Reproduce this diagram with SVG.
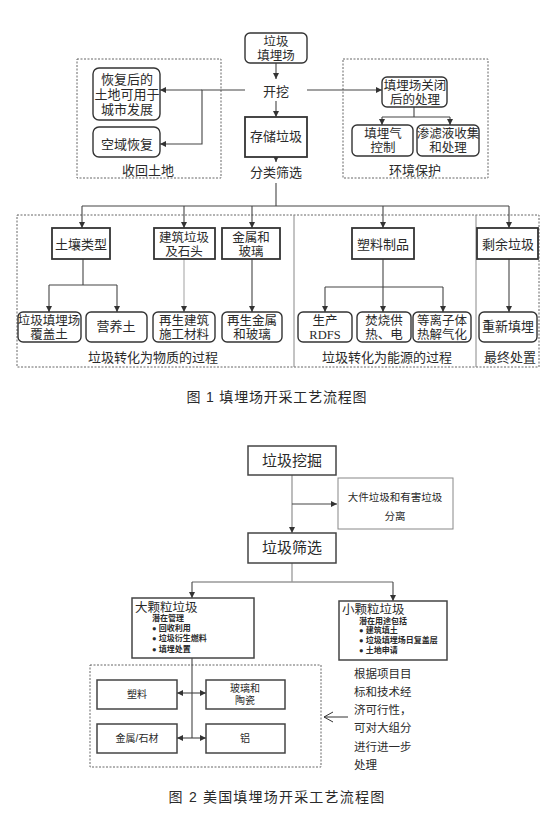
<svg xmlns="http://www.w3.org/2000/svg" width="554" height="818" viewBox="0 0 554 818">
<style>
.bg{fill:#fff}
.s{font-family:"Liberation Serif","Noto Sans CJK SC",serif;fill:#2a2a2a;text-anchor:middle}
.f1{font-size:13px}
.f2{font-size:12.5px}
.h{font-family:"Liberation Sans","Noto Sans CJK SC",sans-serif;fill:#2a2a2a}
.rb{fill:#fff;stroke:#333;stroke-width:1.4}
.sb{fill:#fff;stroke:#333;stroke-width:1.8}
.dash{fill:none;stroke:#666;stroke-width:1;stroke-dasharray:2,1.5}
.ln{fill:none;stroke:#444;stroke-width:1.1}
.lg{fill:none;stroke:#999;stroke-width:1.3}
.b2{fill:#fff;stroke:#444;stroke-width:1.5}
.b3{fill:#fff;stroke:#888;stroke-width:1}
.bl{font-size:8px;font-weight:bold}
.dot{font-size:7.5px}
</style>
<defs>
<marker id="a" markerUnits="userSpaceOnUse" markerWidth="7" markerHeight="6" refX="6" refY="3" orient="auto-start-reverse">
<path d="M0,0 L6,3 L0,6 Z" fill="#333"/>
</marker>
<marker id="o" markerUnits="userSpaceOnUse" markerWidth="10" markerHeight="12" refX="9" refY="6" orient="auto">
<path d="M0,1 L9,6 L0,11" fill="none" stroke="#333" stroke-width="1"/>
</marker>
</defs>
<rect class="bg" width="554" height="818"/>

<!-- Figure 1 containers -->
<g id="group-shouhui">
<rect class="dash" x="77" y="59" width="144" height="119"/>
<text class="s f1" x="148" y="175">收回土地</text>
</g>
<g id="group-huanjing">
<rect class="dash" x="343" y="59" width="145" height="119"/>
<text class="s f1" x="415" y="175">环境保护</text>
</g>
<g id="group-bottom">
<rect class="dash" x="17" y="215" width="522" height="152"/>
<line x1="294" y1="215" x2="294" y2="367" stroke="#888" stroke-width="1"/>
<line x1="476" y1="215" x2="476" y2="367" stroke="#888" stroke-width="1"/>
<text class="s f1" x="153" y="362">垃圾转化为物质的过程</text>
<text class="s f1" x="387" y="362">垃圾转化为能源的过程</text>
<text class="s f1" x="510" y="362">最终处置</text>
</g>

<!-- Figure 1 connectors -->
<g id="connectors-1">
<line class="ln" x1="276" y1="63" x2="276" y2="79" marker-end="url(#a)"/>
<line class="ln" x1="276" y1="101" x2="276" y2="117" marker-end="url(#a)"/>
<line class="ln" x1="276" y1="157" x2="276" y2="162" marker-end="url(#a)"/>
<line class="ln" x1="276" y1="183" x2="276" y2="206"/>
<polyline class="ln" points="245,90 202,90 202,144 160,144" marker-end="url(#a)"/>
<line class="ln" x1="202" y1="90" x2="160" y2="90" marker-end="url(#a)"/>
<line class="ln" x1="307" y1="90" x2="382" y2="90" marker-end="url(#a)"/>
<line class="ln" x1="414" y1="107" x2="414" y2="117"/>
<line class="ln" x1="382" y1="117" x2="450" y2="117"/>
<line class="ln" x1="382" y1="117" x2="382" y2="125" marker-end="url(#a)"/>
<line class="ln" x1="450" y1="117" x2="450" y2="125" marker-end="url(#a)"/>
<line class="ln" x1="82" y1="206" x2="509" y2="206"/>
<line class="ln" x1="82" y1="206" x2="82" y2="228" marker-end="url(#a)"/>
<line class="ln" x1="184" y1="206" x2="184" y2="228" marker-end="url(#a)"/>
<line class="ln" x1="252" y1="206" x2="252" y2="228" marker-end="url(#a)"/>
<line class="ln" x1="383" y1="206" x2="383" y2="228" marker-end="url(#a)"/>
<line class="ln" x1="509" y1="206" x2="509" y2="228" marker-end="url(#a)"/>
<line class="ln" x1="83" y1="259" x2="83" y2="285"/>
<line class="ln" x1="49" y1="285" x2="117" y2="285"/>
<line class="ln" x1="49" y1="285" x2="49" y2="312" marker-end="url(#a)"/>
<line class="ln" x1="117" y1="285" x2="117" y2="312" marker-end="url(#a)"/>
<line x1="184" y1="259" x2="184" y2="312" stroke="#aaa" stroke-width="1.1" marker-end="url(#a)"/>
<line class="ln" x1="252" y1="259" x2="252" y2="312" marker-end="url(#a)"/>
<line class="ln" x1="383" y1="259" x2="383" y2="312" marker-end="url(#a)"/>
<line class="ln" x1="325" y1="287" x2="443" y2="287"/>
<line class="ln" x1="325" y1="287" x2="325" y2="312" marker-end="url(#a)"/>
<line class="ln" x1="443" y1="287" x2="443" y2="312" marker-end="url(#a)"/>
<line class="ln" x1="509" y1="259" x2="509" y2="312" marker-end="url(#a)"/>
</g>

<!-- Figure 1 nodes -->
<g id="n-landfill"><rect class="rb" x="245" y="33" width="62" height="30" rx="5"/>
<text class="s f2" x="276" y="46">垃圾</text><text class="s f2" x="276" y="60">填埋场</text></g>
<g id="n-dig"><text class="s f1" x="276" y="96">开挖</text></g>
<g id="n-urban"><rect class="rb" x="93" y="68" width="67" height="52" rx="6"/>
<text class="s f1" x="127" y="84">恢复后的</text><text class="s f1" x="127" y="99">土地可用于</text><text class="s f1" x="127" y="114">城市发展</text></g>
<g id="n-air"><rect class="rb" x="93" y="127" width="67" height="30" rx="6"/>
<text class="s f1" x="127" y="149">空域恢复</text></g>
<g id="n-store"><rect class="sb" x="245" y="117" width="62" height="40"/>
<text class="s f1" x="276" y="141">存储垃圾</text></g>
<g id="n-sort"><text class="s f1" x="276" y="177">分类筛选</text></g>
<g id="n-close"><rect class="rb" x="382" y="77" width="65" height="30" rx="5"/>
<text class="s f2" x="415" y="90">填埋场关闭</text><text class="s f2" x="415" y="104">后的处理</text></g>
<g id="n-gas"><rect class="rb" x="352" y="125" width="61" height="31" rx="5"/>
<text class="s f2" x="383" y="138">填埋气</text><text class="s f2" x="383" y="152">控制</text></g>
<g id="n-leach"><rect class="rb" x="417" y="125" width="62" height="31" rx="5"/>
<text class="s f2" x="448" y="138">渗滤液收集</text><text class="s f2" x="448" y="152">和处理</text></g>

<g id="n-soil"><rect class="sb" x="52" y="228" width="58" height="31"/>
<text class="s f1" x="81" y="249">土壤类型</text></g>
<g id="n-build"><rect class="sb" x="154" y="228" width="61" height="31"/>
<text class="s f2" x="184" y="242">建筑垃圾</text><text class="s f2" x="184" y="256">及石头</text></g>
<g id="n-metal"><rect class="sb" x="222" y="228" width="58" height="31"/>
<text class="s f2" x="251" y="242">金属和</text><text class="s f2" x="251" y="256">玻璃</text></g>
<g id="n-plastic"><rect class="sb" x="352" y="228" width="62" height="31"/>
<text class="s f1" x="383" y="249">塑料制品</text></g>
<g id="n-rest"><rect class="sb" x="477" y="228" width="61" height="31"/>
<text class="s f1" x="508" y="249">剩余垃圾</text></g>

<g id="n-cover"><rect class="rb" x="18" y="312" width="63" height="30" rx="5"/>
<text class="s f2" x="49" y="325">垃圾填埋场</text><text class="s f2" x="49" y="339">覆盖土</text></g>
<g id="n-nutri"><rect class="rb" x="86" y="312" width="61" height="30" rx="5"/>
<text class="s f1" x="116" y="331">营养土</text></g>
<g id="n-rebuild"><rect class="rb" x="153" y="312" width="62" height="30" rx="5"/>
<text class="s f2" x="184" y="325">再生建筑</text><text class="s f2" x="184" y="339">施工材料</text></g>
<g id="n-remetal"><rect class="rb" x="222" y="312" width="60" height="30" rx="5"/>
<text class="s f2" x="252" y="325">再生金属</text><text class="s f2" x="252" y="339">和玻璃</text></g>
<g id="n-rdf"><rect class="rb" x="298" y="312" width="54" height="30" rx="5"/>
<text class="s f2" x="325" y="325">生产</text><text class="s f2" x="325" y="339">RDFS</text></g>
<g id="n-burn"><rect class="rb" x="357" y="312" width="54" height="30" rx="5"/>
<text class="s f2" x="384" y="325">焚烧供</text><text class="s f2" x="384" y="339">热、电</text></g>
<g id="n-plasma"><rect class="rb" x="413" y="312" width="58" height="30" rx="5"/>
<text class="s f2" x="442" y="325">等离子体</text><text class="s f2" x="442" y="339">热解气化</text></g>
<g id="n-refill"><rect class="rb" x="479" y="312" width="58" height="30" rx="5"/>
<text class="s f1" x="508" y="331">重新填埋</text></g>

<text class="h" x="277" y="402" font-size="14" letter-spacing="0.8" text-anchor="middle">图 1  填埋场开采工艺流程图</text>

<!-- Figure 2 -->
<g id="group-fig2-dash"><rect class="dash" x="90" y="665" width="231" height="102"/></g>
<g id="connectors-2">
<line class="lg" x1="292" y1="475" x2="292" y2="533" marker-end="url(#a)"/>
<line class="ln" x1="292" y1="504" x2="337" y2="504" marker-end="url(#a)"/>
<line class="lg" x1="292" y1="563" x2="292" y2="582"/>
<line class="lg" x1="192" y1="582" x2="393" y2="582"/>
<line class="ln" x1="192" y1="582" x2="192" y2="598" marker-end="url(#a)"/>
<line class="ln" x1="393" y1="582" x2="393" y2="601" marker-end="url(#a)"/>
<line class="ln" x1="192" y1="658" x2="192" y2="738"/>
<line class="ln" x1="177" y1="693" x2="206" y2="693" marker-start="url(#a)" marker-end="url(#a)"/>
<line class="ln" x1="177" y1="738" x2="206" y2="738" marker-start="url(#a)" marker-end="url(#a)"/>
<line x1="348" y1="717" x2="324" y2="717" stroke="#333" stroke-width="1" marker-end="url(#o)"/>
</g>
<g id="n2-dig"><rect class="b2" x="248" y="446" width="88" height="29"/>
<text class="h" x="292" y="466" font-size="15" text-anchor="middle">垃圾挖掘</text></g>
<g id="n2-sep"><rect class="b3" x="338" y="478" width="115" height="51"/>
<text class="h" x="395" y="501" font-size="10.5" text-anchor="middle">大件垃圾和有害垃圾</text>
<text class="h" x="395" y="520" font-size="10.5" text-anchor="middle">分离</text></g>
<g id="n2-sort"><rect class="b2" x="248" y="533" width="88" height="30"/>
<text class="h" x="292" y="553" font-size="15" text-anchor="middle">垃圾筛选</text></g>
<g id="n2-large"><rect class="b2" x="132" y="598" width="122" height="60"/>
<text class="h" x="135" y="612" font-size="12.5">大颗粒垃圾</text>
<text class="h bl" x="152" y="621">潜在管理</text>
<text class="h bl" x="152" y="631"><tspan class="dot">●</tspan> 回收利用</text>
<text class="h bl" x="152" y="641"><tspan class="dot">●</tspan> 垃圾衍生燃料</text>
<text class="h bl" x="152" y="652"><tspan class="dot">●</tspan> 填埋处置</text></g>
<g id="n2-small"><rect class="b2" x="339" y="601" width="108" height="59"/>
<text class="h" x="342" y="614" font-size="12.5">小颗粒垃圾</text>
<text class="h bl" x="359" y="624">潜在用途包括</text>
<text class="h bl" x="359" y="633"><tspan class="dot">●</tspan> 建筑填土</text>
<text class="h bl" x="359" y="643"><tspan class="dot">●</tspan> 垃圾填埋场日复盖层</text>
<text class="h bl" x="359" y="653"><tspan class="dot">●</tspan> 土地申请</text></g>
<g id="n2-plastic"><rect class="b2" x="97" y="680" width="80" height="29"/>
<text class="h" x="137" y="698" font-size="10" text-anchor="middle">塑料</text></g>
<g id="n2-glass"><rect class="b2" x="206" y="680" width="79" height="29"/>
<text class="h" x="245" y="692" font-size="10" text-anchor="middle">玻璃和</text>
<text class="h" x="245" y="704" font-size="10" text-anchor="middle">陶瓷</text></g>
<g id="n2-metal"><rect class="b2" x="97" y="724" width="80" height="29"/>
<text class="h" x="137" y="742" font-size="10" text-anchor="middle">金属/石材</text></g>
<g id="n2-al"><rect class="b2" x="206" y="724" width="79" height="29"/>
<text class="h" x="245" y="742" font-size="10" text-anchor="middle">铝</text></g>
<g id="n2-note">
<text class="h" x="354" y="678" font-size="11.5">根据项目目</text>
<text class="h" x="354" y="696" font-size="11.5">标和技术经</text>
<text class="h" x="354" y="714" font-size="11.5">济可行性，</text>
<text class="h" x="354" y="732" font-size="11.5">可对大组分</text>
<text class="h" x="354" y="751" font-size="11.5">进行进一步</text>
<text class="h" x="354" y="769" font-size="11.5">处理</text>
</g>
<text class="h" x="277" y="802" font-size="14" letter-spacing="1.2" text-anchor="middle">图 2  美国填埋场开采工艺流程图</text>
</svg>
